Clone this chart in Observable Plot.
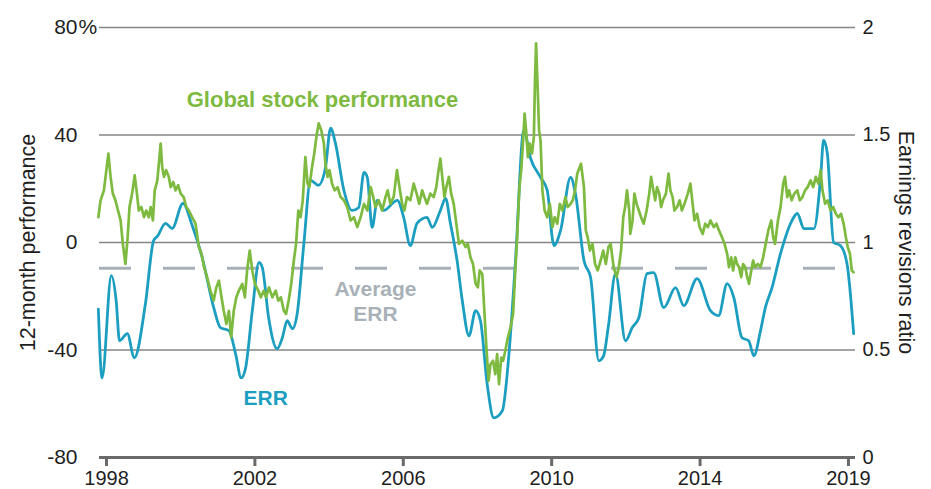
<!DOCTYPE html>
<html>
<head>
<meta charset="utf-8">
<script src="https://cdn.jsdelivr.net/npm/d3@7"></script>
<script src="https://cdn.jsdelivr.net/npm/@observablehq/plot@0.6"></script>
<style>
  html, body { margin: 0; padding: 0; background: #fff; }
  #chart { width: 931px; height: 489px; }
  svg { font-family: "Liberation Sans", Arial, sans-serif; }
</style>
</head>
<body>
<div id="chart"></div>
<script>
// ---- Data ----
const xTickValues = [1998, 2002, 2006, 2010, 2014, 2018];
const xTickLabels = ["1998", "2002", "2006", "2010", "2014", "2019"];
const leftTickValues = [-80, -40, 0, 40, 80];
const leftTickLabels = ["-80", "-40", "0", "40", "80"];
const rightTickLabels = ["0", "0.5", "1", "1.5", "2"];
const averageERR = 0.88;

// Earnings revisions ratio (right axis)
const errYears = [1997.78,1997.88,1998.13,1998.26,1998.35,1998.56,1998.75,1999.05,1999.27,1999.37,1999.59,1999.77,2000.06,2000.31,2000.58,2000.89,2001.07,2001.30,2001.48,2001.63,2001.75,2001.93,2002.11,2002.20,2002.37,2002.60,2002.74,2002.87,2003.01,2003.14,2003.32,2003.50,2003.71,2003.90,2004.04,2004.17,2004.40,2004.62,2004.80,2004.94,2005.03,2005.16,2005.30,2005.47,2005.84,2006.01,2006.19,2006.37,2006.64,2006.78,2007.00,2007.14,2007.27,2007.45,2007.59,2007.77,2007.95,2008.08,2008.26,2008.44,2008.67,2008.84,2009.02,2009.25,2009.43,2009.70,2009.88,2010.06,2010.24,2010.51,2010.64,2010.87,2011.05,2011.27,2011.40,2011.53,2011.72,2011.99,2012.17,2012.35,2012.57,2012.75,2013.02,2013.34,2013.56,2013.92,2014.28,2014.50,2014.73,2014.91,2015.13,2015.31,2015.45,2015.63,2015.76,2015.94,2016.17,2016.48,2016.62,2016.80,2017.07,2017.25,2017.33,2017.43,2017.60,2017.78,2017.96,2018.14];
const errRatio = [0.69,0.37,0.846,0.73,0.543,0.576,0.464,0.716,1.009,1.028,1.089,1.065,1.182,1.079,0.930,0.697,0.604,0.590,0.482,0.370,0.417,0.683,0.907,0.883,0.650,0.506,0.557,0.636,0.599,0.669,0.995,1.289,1.266,1.345,1.532,1.462,1.242,1.149,1.163,1.326,1.303,1.070,1.196,1.149,1.196,1.117,0.986,1.089,1.117,1.070,1.149,1.205,1.089,0.916,0.730,0.566,0.683,0.636,0.343,0.184,0.217,0.464,0.902,1.522,1.392,1.303,1.242,0.986,1.056,1.303,1.228,0.916,0.837,0.450,0.473,0.613,0.855,0.543,0.604,0.650,0.855,0.860,0.697,0.790,0.706,0.832,0.683,0.660,0.809,0.744,0.557,0.543,0.473,0.590,0.697,0.790,0.949,1.103,1.135,1.065,1.065,1.303,1.476,1.415,1.000,0.986,0.902,0.576];

// Global stock performance, 12-month % (left axis)
const stockYears = [
  1997.78,1997.84,1997.93,1998.05,1998.11,1998.17,1998.24,1998.31,1998.38,1998.44,1998.51,1998.57,1998.62,1998.69,1998.76,1998.82,1998.87,1998.94,1999.01,1999.07,1999.14,1999.19,1999.25,1999.30,1999.37,1999.46,1999.50,1999.55,1999.61,1999.68,1999.73,1999.80,1999.86,1999.93,2000.00,2000.08,2000.15,2000.22,2000.31,2000.40,2000.49,2000.56,2000.63,2000.71,2000.80,2000.89,2000.96,2001.03,2001.10,2001.16,2001.23,2001.30,2001.36,2001.43,2001.50,2001.57,2001.66,2001.73,2001.79,2001.86,2001.93,2002.00,2002.09,2002.16,2002.24,2002.30,2002.38,2002.47,2002.56,2002.63,2002.70,2002.78,2002.84,2002.91,2002.98,2003.05,2003.11,2003.17,2003.23,2003.29,2003.36,2003.42,2003.47,2003.54,2003.60,2003.67,2003.72,2003.79,2003.86,2003.90,2003.96,2004.01,2004.08,2004.15,2004.23,2004.31,2004.40,2004.49,2004.58,2004.67,
  2004.76,2004.85,2004.94,2005.03,2005.12,2005.19,2005.25,2005.34,2005.43,2005.52,2005.58,2005.65,2005.74,2005.83,2005.91,2005.97,2006.03,2006.10,2006.19,2006.28,2006.36,2006.43,2006.51,2006.57,2006.64,2006.73,2006.82,2006.89,2006.95,2007.00,2007.06,2007.11,2007.16,2007.23,2007.29,2007.36,2007.43,2007.50,2007.59,2007.68,2007.74,2007.81,2007.88,2007.95,2008.01,2008.06,2008.13,2008.19,2008.24,2008.30,2008.35,2008.42,2008.48,2008.53,2008.58,2008.64,2008.69,2008.75,2008.82,2008.89,2008.96,2009.02,2009.07,2009.13,2009.18,2009.23,2009.27,2009.31,2009.36,2009.41,2009.47,2009.52,2009.55,2009.58,2009.63,2009.66,2009.70,2009.75,2009.81,2009.88,2009.95,2010.02,2010.08,2010.15,2010.22,2010.29,2010.37,2010.43,2010.51,2010.57,2010.63,2010.69,2010.79,2010.87,2010.92,2010.97,2011.03,2011.10,2011.17,2011.24,2011.32,2011.39,2011.46,2011.53,2011.59,
  2011.67,2011.75,2011.81,2011.87,2011.93,2011.98,2012.03,2012.09,2012.12,2012.18,2012.23,2012.29,2012.35,2012.41,2012.48,2012.56,2012.63,2012.68,2012.74,2012.79,2012.84,2012.90,2012.95,2013.00,2013.08,2013.15,2013.20,2013.26,2013.31,2013.38,2013.45,2013.51,2013.58,2013.67,2013.74,2013.80,2013.85,2013.92,2013.99,2014.07,2014.14,2014.21,2014.28,2014.37,2014.44,2014.51,2014.59,2014.66,2014.73,2014.78,2014.84,2014.89,2014.95,2015.00,2015.05,2015.11,2015.16,2015.22,2015.27,2015.32,2015.38,2015.43,2015.48,2015.56,2015.63,2015.70,2015.77,2015.84,2015.92,2015.97,2016.02,2016.10,2016.17,2016.24,2016.29,2016.35,2016.40,2016.47,2016.54,2016.62,2016.69,2016.76,2016.83,2016.90,2016.98,2017.05,2017.12,2017.19,2017.25,2017.30,2017.37,2017.44,2017.52,2017.59,2017.66,2017.73,2017.80,2017.87,2017.93,2017.98,2018.04,2018.09,2018.14
];
const stockPct = [
  9.4,15.7,19.4,33.1,24.4,18.2,15.7,11.9,8.2,-0.5,-8.0,2.0,13.2,18.2,25.0,18.2,11.9,13.2,9.4,11.9,9.4,13.2,8.2,19.4,23.1,36.8,28.1,24.4,26.9,24.4,20.6,22.5,19.4,21.3,18.2,16.9,13.2,11.9,9.4,7.0,-1.7,-4.2,-9.2,-12.9,-17.9,-21.6,-16.7,-14.2,-20.4,-25.4,-30.3,-25.4,-35.3,-25.4,-20.4,-17.9,-15.4,-20.4,-10.4,-3.0,-10.4,-15.4,-17.9,-20.4,-17.9,-20.4,-16.7,-20.4,-17.9,-21.6,-20.4,-25.4,-26.6,-21.6,-15.4,-6.7,-0.5,11.9,9.4,15.7,31.8,21.9,20.6,28.1,33.1,40.5,44.3,41.8,36.8,29.3,24.4,26.9,21.9,19.4,20.6,16.9,15.7,13.2,8.2,9.4,
  5.7,9.4,14.4,11.9,20.6,16.9,13.2,15.7,11.9,16.9,19.4,14.4,16.9,26.9,19.4,14.4,11.9,16.9,15.7,21.9,18.2,14.4,19.4,16.9,14.4,18.2,16.9,20.6,26.9,31.2,23.1,16.9,20.6,24.4,18.2,14.4,7.0,-0.5,0.7,-1.7,-0.5,-5.5,-8.0,-15.4,-16.7,-10.4,-11.7,-26.6,-39.0,-51.5,-45.3,-44.0,-49.0,-41.5,-52.7,-42.8,-44.0,-40.3,-35.3,-31.6,-26.6,-10.4,2.0,20.6,26.9,38.0,48.0,41.8,31.8,36.8,33.1,39.3,60.4,74.1,54.2,41.8,38.0,19.4,11.9,9.4,14.4,5.7,9.4,7.0,14.4,11.9,16.9,13.2,14.4,15.7,19.4,25.7,29.3,20.6,4.5,2.0,-3.0,-0.5,-8.0,-10.4,-6.7,-3.0,-8.0,-1.7,-0.5,
  -9.2,-12.9,-9.2,-3.0,9.4,13.2,19.4,11.9,3.2,8.2,18.2,14.4,11.9,9.4,7.0,11.9,18.2,24.4,19.4,15.7,20.6,18.2,13.2,15.7,18.2,25.6,19.4,16.9,11.9,13.2,15.7,11.9,14.4,18.2,21.9,14.4,8.2,10.7,5.7,3.2,7.0,5.7,8.2,5.7,7.0,4.5,2.0,-0.5,-4.2,-9.2,-5.5,-10.4,-5.5,-8.0,-9.2,-12.9,-8.0,-9.2,-12.9,-15.4,-10.4,-6.7,-9.2,-8.0,-9.2,-5.5,-0.5,4.5,8.2,2.0,-0.5,8.2,13.2,21.9,24.4,16.9,19.4,15.7,18.2,19.4,15.7,16.9,19.4,20.6,23.1,20.6,24.4,21.9,26.9,19.4,14.4,15.7,11.9,13.2,10.7,9.4,10.7,7.0,2.0,-1.7,-4.2,-10.4,-11.1
];

// ---- Build tables ----
const errData = errYears.map((x, i) => ({x, v: errRatio[i]}));
const stockData = stockYears.map((x, i) => ({x, v: stockPct[i]}));
const ratioToPct = r => (r - 1) * 80;

const GREEN = "#7dba3f";
const TEAL = "#1b9ec0";
const GREY = "#a9b1b8";
const TXT = "#1e1e1e";

const chart = Plot.plot({
  width: 931,
  height: 489,
  marginLeft: 99,
  marginRight: 76,
  marginTop: 27,
  marginBottom: 32,
  style: {fontFamily: "'Liberation Sans', Arial, sans-serif", background: "#fff"},
  x: {domain: [1997.811, 2018.19]},
  y: {domain: [-80, 80]},
  marks: [
    Plot.ruleY(leftTickValues.filter(d => d > -80), {stroke: "#858585", strokeWidth: 1.5}),
    Plot.ruleY([ratioToPct(averageERR)], {stroke: GREY, strokeWidth: 3, strokeDasharray: "32,32"}),
    Plot.line(errData, {x: "x", y: d => ratioToPct(d.v), stroke: TEAL, strokeWidth: 2.8, curve: "monotone-x", strokeLinejoin: "round"}),
    Plot.line(stockData, {x: "x", y: "v", stroke: GREEN, strokeWidth: 2.7, strokeLinejoin: "round"}),
    Plot.ruleY([-80], {stroke: "#6a6a6a", strokeWidth: 3}),
    Plot.axisX({ticks: xTickValues, tickFormat: d => xTickLabels[xTickValues.indexOf(d)], tickSize: 9, tickPadding: 4, strokeWidth: 3, stroke: "#6a6a6a", fill: TXT, fontSize: 20, label: null}),
    Plot.axisY({anchor: "left", ticks: leftTickValues, tickFormat: d => leftTickLabels[leftTickValues.indexOf(d)], tickSize: 0, tickPadding: 22, fill: TXT, fontSize: 21, label: null}),
    Plot.text([80], {y: d => d, frameAnchor: "left", text: () => "%", textAnchor: "start", dx: -21, fill: TXT, fontSize: 21}),
    Plot.axisY({anchor: "right", ticks: leftTickValues, tickFormat: d => rightTickLabels[leftTickValues.indexOf(d)], tickSize: 0, tickPadding: 7, fill: TXT, fontSize: 20, label: null}),
    Plot.text(["12-month performance"], {frameAnchor: "left", textAnchor: "middle", rotate: -90, dx: -71, fill: TXT, fontSize: 21.5}),
    Plot.text(["Earnings revisions ratio"], {frameAnchor: "right", textAnchor: "middle", rotate: 90, dx: 50, fill: TXT, fontSize: 21.5}),
    Plot.text(["Global stock performance"], {x: 2003.82, y: 53, fill: GREEN, fontWeight: "bold", fontSize: 22}),
    Plot.text(["Average\nERR"], {x: 2005.25, y: -21.6, fill: GREY, fontWeight: "bold", fontSize: 21, lineHeight: 1.2}),
    Plot.text(["ERR"], {x: 2002.29, y: -57.8, fill: TEAL, fontWeight: "bold", fontSize: 21})
  ]
});
document.getElementById("chart").appendChild(chart);
</script>
</body>
</html>
